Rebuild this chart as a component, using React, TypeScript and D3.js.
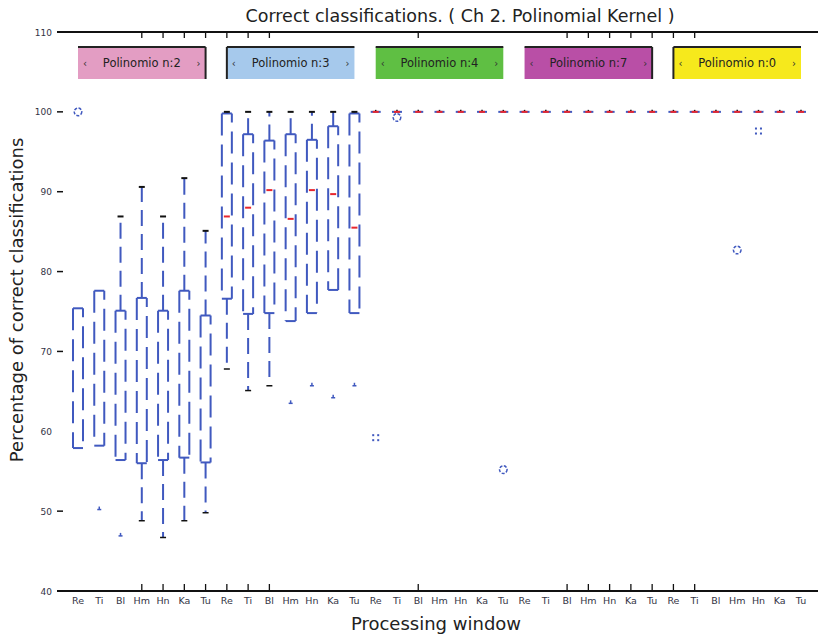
import React from "react";
import * as d3 from "d3";

const categories = ["Re", "Ti", "Bl", "Hm", "Hn", "Ka", "Tu"];
const groupNames = ["Polinomio n:2", "Polinomio n:3", "Polinomio n:4", "Polinomio n:7", "Polinomio n:0"];
const groupColors = ["#e39dc3", "#a6c9ec", "#5fbf43", "#b94fa6", "#f6e91c"];
const groupBorders = [["top", "right"], ["top", "left"], ["top"], ["top", "right"], ["top", "left"]];

// 35 boxes: 5 kernels x 7 windows
const lowWhisker = [
  57.9, 58.2, 56.4, 48.8, 46.7, 48.8, 49.8,
  67.8, 65.1, 65.7, 73.8, 74.8, 77.7, 74.8,
  100, 100, 100, 100, 100, 100, 100,
  100, 100, 100, 100, 100, 100, 100,
  100, 100, 100, 100, 100, 100, 100,
];
const q1 = [
  57.9, 58.2, 56.4, 56.0, 56.4, 56.7, 56.1,
  76.6, 74.7, 74.8, 73.8, 74.8, 77.7, 74.8,
  100, 100, 100, 100, 100, 100, 100,
  100, 100, 100, 100, 100, 100, 100,
  100, 100, 100, 100, 100, 100, 100,
];
const median: (number | null)[] = [
  null, null, null, null, null, null, null,
  86.9, 88.0, 90.2, 86.6, 90.2, 89.7, 85.5,
  100, 100, 100, 100, 100, 100, 100,
  100, 100, 100, 100, 100, 100, 100,
  100, 100, 100, 100, 100, 100, 100,
];
const q3 = [
  75.4, 77.6, 75.1, 76.7, 75.1, 77.6, 74.5,
  99.8, 97.2, 96.4, 97.2, 96.5, 98.2, 99.8,
  100, 100, 100, 100, 100, 100, 100,
  100, 100, 100, 100, 100, 100, 100,
  100, 100, 100, 100, 100, 100, 100,
];
const highWhisker = [
  75.4, 77.6, 86.9, 90.6, 86.9, 91.7, 85.1,
  100, 100, 100, 100, 100, 100, 100,
  100, 100, 100, 100, 100, 100, 100,
  100, 100, 100, 100, 100, 100, 100,
  100, 100, 100, 100, 100, 100, 100,
];
const outlierBox = [0, 1, 2, 10, 11, 12, 13, 14, 15, 20, 31, 32];
const outlierValue = [100, 50.2, 46.9, 63.5, 65.7, 64.2, 65.7, 59.2, 99.3, 55.2, 82.7, 97.6];
const outlierKind = ["o", "t", "t", "t", "t", "t", "t", "+", "o", "o", "o", "+"];

const yTicks = [40, 50, 60, 70, 80, 90, 100, 110];
const frameTickBoxes = [3, 4, 5, 6, 7, 8, 9, 16, 23, 24, 25, 26, 27, 28, 29];

const title = "Correct classifications. ( Ch 2. Polinomial Kernel )";
const xTitle = "Processing window";
const yTitle = "Percentage of correct classifications";

const W = 818;
const H = 638;
const BLUE = "#4059bf";
const FONT = "'DejaVu Sans', 'Liberation Sans', Arial, sans-serif";

export default function App() {
  const n = lowWhisker.length;
  const idx = d3.range(n);
  const x = d3.scalePoint<number>().domain(idx).range([78, 801]);
  const y = d3.scaleLinear().domain([40, 110]).range([591, 32]);
  const hw = 5;
  const frameLeft = 57;
  const frameRight = 818;

  return (
    <svg width={W} height={H} style={{ position: "absolute", left: 0, top: 0, background: "#fff" }} fontFamily={FONT}>
      {/* title */}
      <text x={460} y={22} textAnchor="middle" fontSize={17.5} fill="#222">{title}</text>

      {/* frame lines */}
      <line x1={frameLeft} x2={frameRight} y1={y(110)} y2={y(110)} stroke="#111" strokeWidth={1.8} />
      <line x1={frameLeft} x2={frameRight} y1={y(40)} y2={y(40)} stroke="#111" strokeWidth={1.8} />
      {frameTickBoxes.map((b) => (
        <g key={"ft" + b}>
          <line x1={x(b)} x2={x(b)} y1={y(110)} y2={y(110) + 6} stroke="#111" strokeWidth={1.3} />
          <line x1={x(b)} x2={x(b)} y1={y(40)} y2={y(40) - 7} stroke="#111" strokeWidth={1.3} />
        </g>
      ))}

      {/* y ticks */}
      {yTicks.map((t) => (
        <g key={"yt" + t}>
          <text x={52} y={y(t) + 3.5} textAnchor="end" fontSize={9} fill="#334">{t}</text>
          {t !== 110 && t !== 60 && (
            <line x1={57} x2={63} y1={y(t)} y2={y(t)} stroke="#111" strokeWidth={1.5} />
          )}
        </g>
      ))}

      {/* y title */}
      <text transform={`translate(23,${300}) rotate(-90)`} textAnchor="middle" fontSize={18} fill="#222">{yTitle}</text>

      {/* x tick labels */}
      {idx.map((i) => (
        <text key={"xl" + i} x={x(i)} y={604} textAnchor="middle" fontSize={9.5} fill="#334">
          {categories[i % categories.length]}
        </text>
      ))}
      <text x={436} y={630} textAnchor="middle" fontSize={18} fill="#222">{xTitle}</text>

      {/* group legend boxes */}
      {groupNames.map((g, gi) => {
        const x0 = x(gi * 7)!;
        const x1 = x(gi * 7 + 6)!;
        const top = 47;
        const bot = 79;
        const b = groupBorders[gi];
        return (
          <g key={"g" + gi}>
            <rect x={x0} y={top} width={x1 - x0} height={bot - top} fill={groupColors[gi]} />
            {b.includes("top") && <line x1={x0} x2={x1} y1={top} y2={top} stroke="#222" strokeWidth={2} />}
            {b.includes("right") && <line x1={x1} x2={x1} y1={top} y2={bot} stroke="#222" strokeWidth={2} />}
            {b.includes("left") && <line x1={x0} x2={x0} y1={top} y2={bot} stroke="#222" strokeWidth={2} />}
            <text x={x0 + 5} y={(top + bot) / 2 + 3.5} fontSize={10} fill="#333">‹</text>
            <text x={x1 - 5} y={(top + bot) / 2 + 3.5} textAnchor="end" fontSize={10} fill="#333">›</text>
            <text x={(x0 + x1) / 2} y={(top + bot) / 2 + 4} textAnchor="middle" fontSize={11.5} fill="#222">{g}</text>
          </g>
        );
      })}

      {/* boxes */}
      {idx.map((i) => {
        const cx = x(i)!;
        const yq1 = y(q1[i]);
        const yq3 = y(q3[i]);
        const ylo = y(lowWhisker[i]);
        const yhi = y(highWhisker[i]);
        const med = median[i];
        const flat = q3[i] - q1[i] < 0.01;
        return (
          <g key={"b" + i}>
            {!flat && (
              <>
                <line x1={cx - hw} x2={cx - hw} y1={yq3} y2={yq1} stroke={BLUE} strokeWidth={2} strokeDasharray="22 9" />
                <line x1={cx + hw} x2={cx + hw} y1={yq3} y2={yq1} stroke={BLUE} strokeWidth={2} strokeDasharray="22 9" strokeDashoffset={13} />
                <line x1={cx - hw} x2={cx + hw} y1={yq3} y2={yq3} stroke={BLUE} strokeWidth={2} />
                <line x1={cx - hw} x2={cx + hw} y1={yq1} y2={yq1} stroke={BLUE} strokeWidth={2} />
              </>
            )}
            {flat && <line x1={cx - hw} x2={cx + hw} y1={yq1} y2={yq1} stroke={BLUE} strokeWidth={2} />}
            {highWhisker[i] > q3[i] + 0.01 && (
              <line x1={cx} x2={cx} y1={yq3} y2={yhi} stroke={BLUE} strokeWidth={2} strokeDasharray="16 8" />
            )}
            {lowWhisker[i] < q1[i] - 0.01 && (
              <line x1={cx} x2={cx} y1={yq1} y2={ylo} stroke={BLUE} strokeWidth={2} strokeDasharray="16 8" />
            )}
            {highWhisker[i] > q3[i] + 0.01 && (
              <line x1={cx - 3} x2={cx + 3} y1={yhi} y2={yhi} stroke="#111" strokeWidth={2} />
            )}
            {lowWhisker[i] < q1[i] - 0.01 && (
              <line x1={cx - 3} x2={cx + 3} y1={ylo} y2={ylo} stroke="#111" strokeWidth={1.5} />
            )}
            {flat && <line x1={cx} x2={cx} y1={yq1 - 2} y2={yq1} stroke="#111" strokeWidth={1.5} />}
            {med !== null && (
              <line x1={cx - 3} x2={cx + 3} y1={y(med)} y2={y(med)} stroke="#e8262e" strokeWidth={2} />
            )}
          </g>
        );
      })}

      {/* outliers */}
      {outlierBox.map((b, k) => {
        const cx = x(b)!;
        const cy = y(outlierValue[k]);
        const kind = outlierKind[k];
        if (kind === "o")
          return <circle key={"o" + k} cx={cx} cy={cy} r={3.8} fill="none" stroke={BLUE} strokeWidth={1.5} strokeDasharray="3 1.5" />;
        if (kind === "+")
          return (
            <g key={"o" + k} fill={BLUE}>
              <rect x={cx - 3.5} y={cy - 3.5} width={2} height={2} />
              <rect x={cx + 1.5} y={cy - 3.5} width={2} height={2} />
              <rect x={cx - 3.5} y={cy + 1.5} width={2} height={2} />
              <rect x={cx + 1.5} y={cy + 1.5} width={2} height={2} />
            </g>
          );
        return (
          <g key={"o" + k}>
            <line x1={cx - 2} x2={cx + 2} y1={cy} y2={cy} stroke={BLUE} strokeWidth={1.5} />
            <line x1={cx} x2={cx} y1={cy - 3} y2={cy} stroke={BLUE} strokeWidth={1.5} />
          </g>
        );
      })}
    </svg>
  );
}
